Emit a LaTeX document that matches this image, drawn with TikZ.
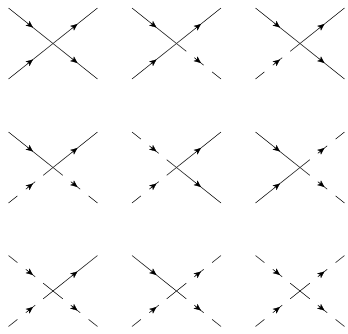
\documentclass[tikz,border=0pt]{standalone}
\usetikzlibrary{arrows.meta}
\tikzset{
  armline/.style={line width=0.6pt,black!90},
  armtip/.style={line width=0.3pt,black,-{Stealth[length=7pt,width=6pt,inset=1.8pt]}},
}
% each arm runs from outer end #1 to centre #2; positions measured from the outer end
\newcommand{\solidin}[2]{%
  \draw[armline] (#1) -- (#2);
  \path (#1) -- coordinate[pos=0.42] (taila) coordinate[pos=0.55] (tipa) (#2);
  \draw[armtip] (taila) -- (tipa);
}
\newcommand{\solidout}[2]{%
  \draw[armline] (#2) -- (#1);
  \path (#1) -- coordinate[pos=0.58] (taila) coordinate[pos=0.45] (tipa) (#2);
  \draw[armtip] (taila) -- (tipa);
}
\newcommand{\dashin}[2]{%
  \path (#1) -- coordinate[pos=0.2] (da) coordinate[pos=0.39] (db) coordinate[pos=0.42] (taila) coordinate[pos=0.55] (tipa) coordinate[pos=0.6] (dc) coordinate[pos=0.78] (dd) (#2);
  \draw[armline] (#1) -- (da);
  \draw[armline] (db) -- (dc);
  \draw[armtip] (taila) -- (tipa);
  \draw[armline] (dd) -- (#2);
}
\newcommand{\dashout}[2]{%
  \path (#1) -- coordinate[pos=0.2] (da) coordinate[pos=0.39] (db) coordinate[pos=0.45] (tipa) coordinate[pos=0.58] (taila) coordinate[pos=0.6] (dc) coordinate[pos=0.78] (dd) (#2);
  \draw[armline] (#1) -- (da);
  \draw[armline] (dc) -- (db);
  \draw[armtip] (taila) -- (tipa);
  \draw[armline] (dd) -- (#2);
}
% #1 #2 centre px, #3..#6 = s/d for TL BL TR BR
\newcommand{\vertexfig}[6]{%
  \begin{scope}[shift={(#1pt,-#2pt)}]
    \coordinate (c) at (0,0);
    \coordinate (tl) at (-44.5pt,35.5pt);
    \coordinate (bl) at (-44.5pt,-35.5pt);
    \coordinate (tr) at (44.5pt,35.5pt);
    \coordinate (br) at (44.5pt,-35.5pt);
    \csname arm#3in\endcsname{tl}{c}
    \csname arm#4in\endcsname{bl}{c}
    \csname arm#5out\endcsname{tr}{c}
    \csname arm#6out\endcsname{br}{c}
  \end{scope}
}
\expandafter\let\csname armsin\endcsname\solidin
\expandafter\let\csname armdin\endcsname\dashin
\expandafter\let\csname armsout\endcsname\solidout
\expandafter\let\csname armdout\endcsname\dashout
\begin{document}
\begin{tikzpicture}[x=1pt,y=1pt]
  \useasboundingbox (0,0) rectangle (348,-333);
  \vertexfig{53}{43.5}{s}{s}{s}{s}
  \vertexfig{176.5}{43.5}{s}{s}{s}{d}
  \vertexfig{300}{43.5}{s}{d}{s}{s}
  \vertexfig{53}{167.5}{s}{d}{s}{d}
  \vertexfig{176.5}{167.5}{d}{d}{s}{s}
  \vertexfig{300}{167.5}{s}{s}{d}{d}
  \vertexfig{53}{291}{d}{d}{s}{d}
  \vertexfig{176.5}{291}{s}{d}{d}{d}
  \vertexfig{300}{291}{d}{d}{d}{d}
\end{tikzpicture}
\end{document}
